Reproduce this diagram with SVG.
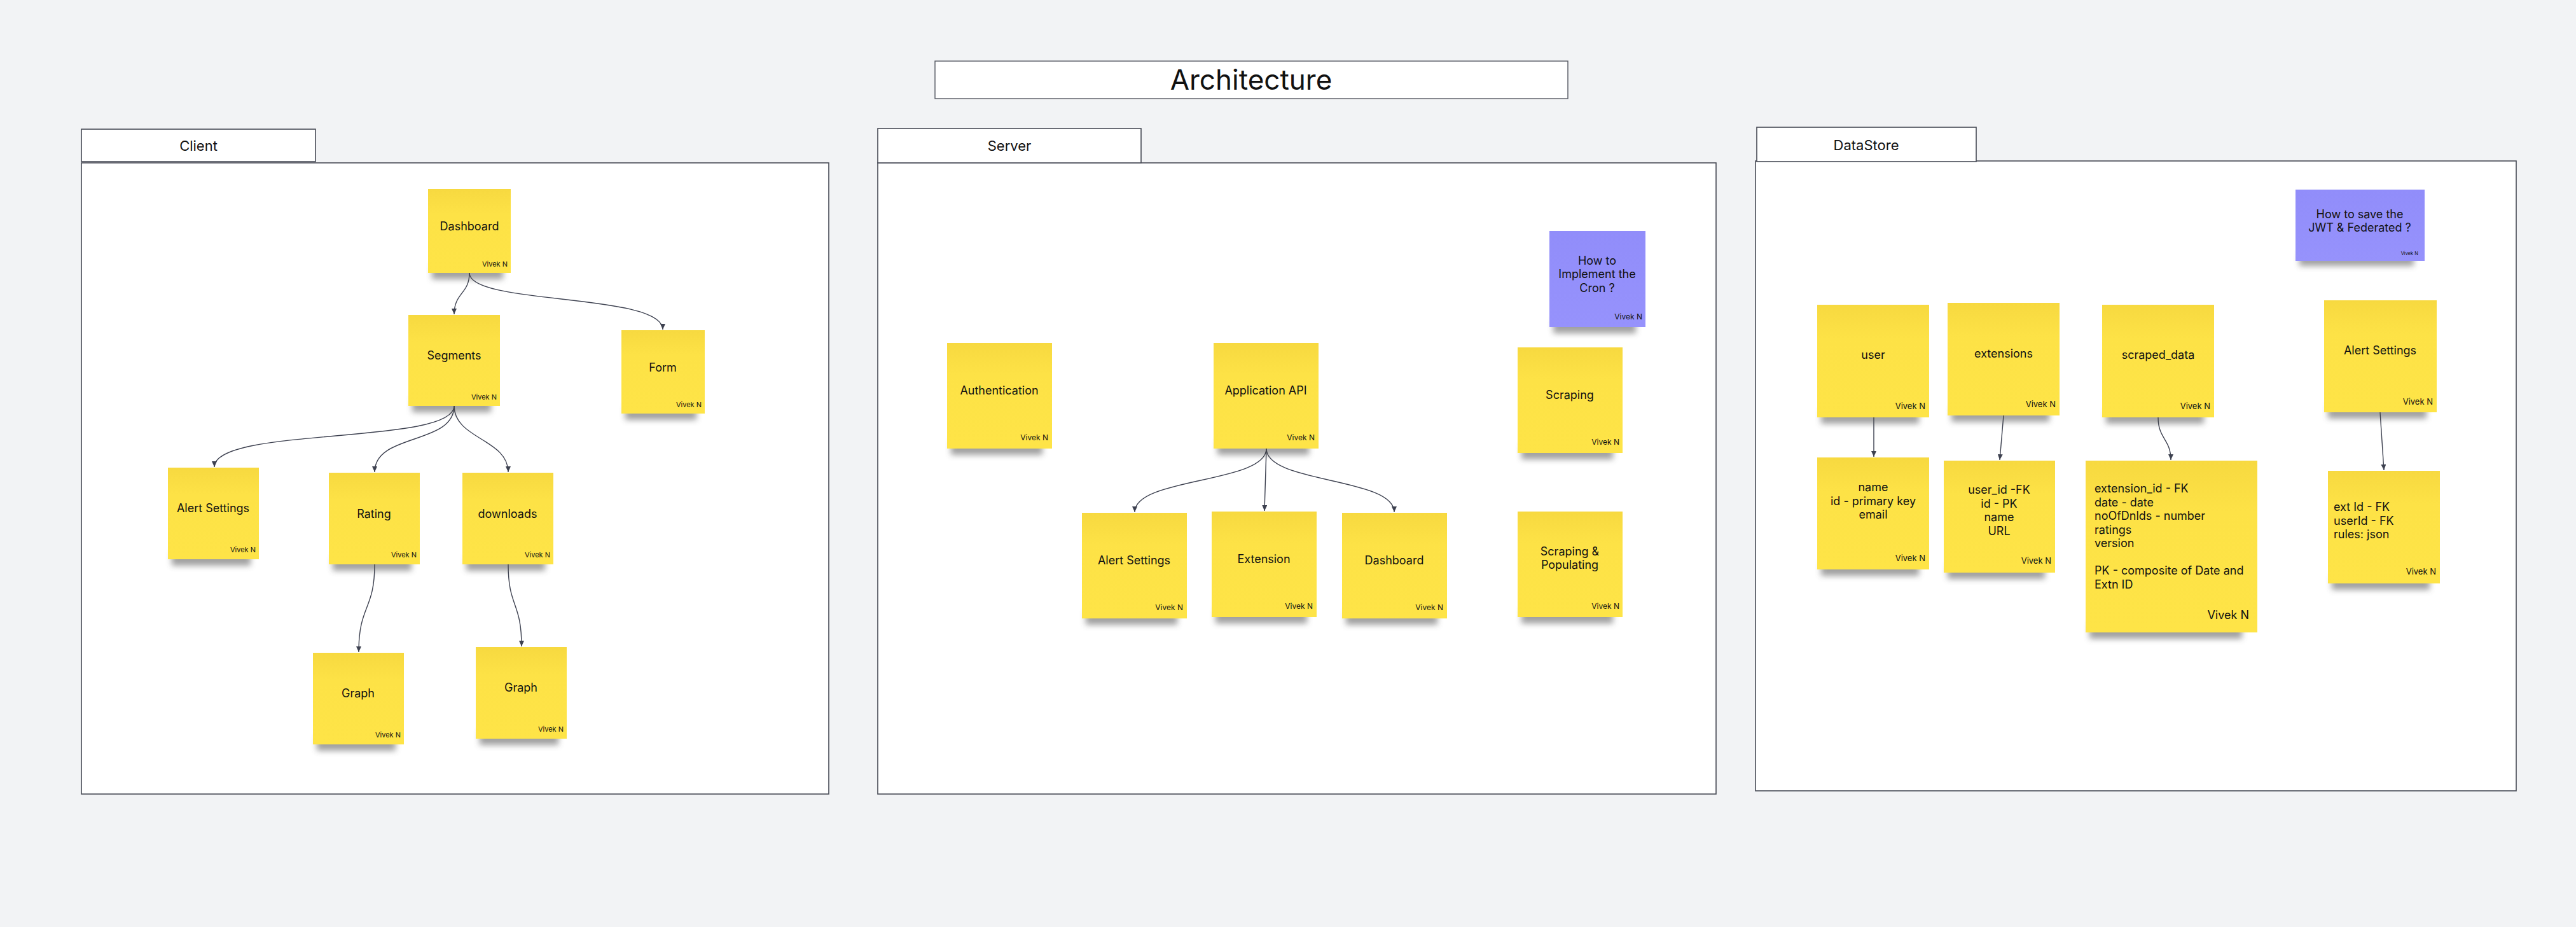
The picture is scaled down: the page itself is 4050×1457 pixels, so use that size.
<svg xmlns="http://www.w3.org/2000/svg" width="4050" height="1457" viewBox="0 0 4050 1457">
<style>
text{font-family:Inter,"Liberation Sans",Arial,sans-serif;fill:#111}
.frame{fill:#fff;stroke:#474a55;stroke-width:1.6}
.tabt{font-size:22px;text-anchor:middle}
.note{fill:url(#gy)}
.pnote{fill:url(#gp)}
.sh{fill:#444;opacity:.5;filter:url(#bl)}
.lbl{font-size:18px;text-anchor:middle}
.lft{font-size:18px;text-anchor:start}
.vn{font-size:11px;text-anchor:end}
.vs{font-size:12px;text-anchor:end}
.vd{font-size:13px;text-anchor:end}
.edge{fill:none;stroke:#3d4150;stroke-width:1.4;marker-end:url(#ah)}
</style>
<defs>
<linearGradient id="gy" x1="0" y1="0" x2="0" y2="1">
<stop offset="0" stop-color="#F7D940"/>
<stop offset="0.3" stop-color="#FDE246"/>
<stop offset="1" stop-color="#FEE447"/>
</linearGradient>
<linearGradient id="gp" x1="0" y1="0" x2="0" y2="1">
<stop offset="0" stop-color="#918DFA"/>
<stop offset="1" stop-color="#9692FC"/>
</linearGradient>
<filter id="bl" x="-20%" y="-50%" width="140%" height="200%"><feGaussianBlur stdDeviation="5"/></filter>
<marker id="ah" markerWidth="10" markerHeight="8" refX="9" refY="4" orient="auto" markerUnits="userSpaceOnUse">
<path d="M0,0 L9,4 L0,8 Z" fill="#3d4150"/>
</marker>
</defs>
<rect x="0" y="0" width="4050" height="1457" fill="#F2F3F5"/>

<g id="title">
<rect x="1470" y="96" width="995" height="59" fill="#fff" stroke="#555862" stroke-width="1.4"/>
<text x="1967" y="141" font-size="44" text-anchor="middle">Architecture</text>
</g>

<g id="frame-client">
<rect class="frame" x="128" y="256" width="1175" height="992"/>
<rect class="frame" x="128" y="203" width="368" height="51"/>
<text class="tabt" x="312" y="237">Client</text>
</g>
<g id="frame-server">
<rect class="frame" x="1380" y="256" width="1318" height="992"/>
<rect class="frame" x="1380" y="202" width="414" height="54"/>
<text class="tabt" x="1587" y="237">Server</text>
</g>
<g id="frame-datastore">
<rect class="frame" x="2760" y="253" width="1196" height="990"/>
<rect class="frame" x="2762" y="200" width="345" height="54"/>
<text class="tabt" x="2934" y="236">DataStore</text>
</g>

<g id="connectors">
<path class="edge" d="M738,429 C738,462 714,460 714,494"/>
<path class="edge" d="M738,429 C738,480 1042,460 1042,518"/>
<path class="edge" d="M714,638 C714,700 337,670 337,734"/>
<path class="edge" d="M714,638 C714,700 589,680 589,742"/>
<path class="edge" d="M714,638 C714,690 799,690 799,742"/>
<path class="edge" d="M589,887 C589,960 564,950 564,1025"/>
<path class="edge" d="M799,887 C799,955 820,945 820,1016"/>
<path class="edge" d="M1991,705 C1991,760 1784,750 1784,805"/>
<path class="edge" d="M1991,705 L1988,803"/>
<path class="edge" d="M1991,705 C1991,760 2192,750 2192,805"/>
<path class="edge" d="M2946,656 L2946,718"/>
<path class="edge" d="M3150,653 L3144,723"/>
<path class="edge" d="M3393,656 C3393,690 3413,690 3413,723"/>
<path class="edge" d="M3742,648 L3748,739"/>
</g>

<g id="n-dashboard">
<rect class="sh" x="679" y="417" width="112" height="22"/>
<rect class="note" x="673" y="297" width="130" height="132"/>
<text class="lbl" x="738" y="362">Dashboard</text>
<text class="vn" x="798" y="419">Vivek N</text>
</g>
<g id="n-segments">
<rect class="sh" x="648" y="626" width="124" height="22"/>
<rect class="note" x="642" y="495" width="144" height="143"/>
<text class="lbl" x="714" y="565">Segments</text>
<text class="vn" x="781" y="628">Vivek N</text>
</g>
<g id="n-form">
<rect class="sh" x="983" y="638" width="112" height="22"/>
<rect class="note" x="977" y="519" width="131" height="131"/>
<text class="lbl" x="1042" y="584">Form</text>
<text class="vn" x="1103" y="640">Vivek N</text>
</g>
<g id="n-c-alert">
<rect class="sh" x="270" y="867" width="124" height="22"/>
<rect class="note" x="264" y="735" width="143" height="144"/>
<text class="lbl" x="335" y="805">Alert Settings</text>
<text class="vn" x="402" y="868">Vivek N</text>
</g>
<g id="n-rating">
<rect class="sh" x="523" y="875" width="124" height="22"/>
<rect class="note" x="517" y="743" width="143" height="144"/>
<text class="lbl" x="588" y="814">Rating</text>
<text class="vn" x="655" y="876">Vivek N</text>
</g>
<g id="n-downloads">
<rect class="sh" x="733" y="875" width="124" height="22"/>
<rect class="note" x="727" y="743" width="143" height="144"/>
<text class="lbl" x="798" y="814">downloads</text>
<text class="vn" x="865" y="876">Vivek N</text>
</g>
<g id="n-graph1">
<rect class="sh" x="498" y="1158" width="124" height="22"/>
<rect class="note" x="492" y="1026" width="143" height="144"/>
<text class="lbl" x="563" y="1096">Graph</text>
<text class="vn" x="630" y="1159">Vivek N</text>
</g>
<g id="n-graph2">
<rect class="sh" x="754" y="1149" width="124" height="22"/>
<rect class="note" x="748" y="1017" width="143" height="144"/>
<text class="lbl" x="819" y="1087">Graph</text>
<text class="vn" x="886" y="1150">Vivek N</text>
</g>

<g id="n-auth">
<rect class="sh" x="1495" y="693" width="144" height="22"/>
<rect class="note" x="1489" y="539" width="165" height="166"/>
<text class="lbl" x="1571" y="620">Authentication</text>
<text class="vs" x="1648" y="692">Vivek N</text>
</g>
<g id="n-appapi">
<rect class="sh" x="1914" y="693" width="144" height="22"/>
<rect class="note" x="1908" y="539" width="165" height="166"/>
<text class="lbl" x="1990" y="620">Application API</text>
<text class="vs" x="2067" y="692">Vivek N</text>
</g>
<g id="n-cron">
<rect class="sh" x="2442" y="502" width="130" height="22"/>
<rect class="pnote" x="2436" y="363" width="151" height="151"/>
<text class="lbl" x="2511" y="416">How to</text>
<text class="lbl" x="2511" y="437">Implement the</text>
<text class="lbl" x="2511" y="459">Cron ?</text>
<text class="vs" x="2582" y="502">Vivek N</text>
</g>
<g id="n-scraping">
<rect class="sh" x="2392" y="700" width="144" height="22"/>
<rect class="note" x="2386" y="546" width="165" height="166"/>
<text class="lbl" x="2468" y="627">Scraping</text>
<text class="vs" x="2546" y="699">Vivek N</text>
</g>
<g id="n-s-alert">
<rect class="sh" x="1707" y="960" width="144" height="22"/>
<rect class="note" x="1701" y="806" width="165" height="166"/>
<text class="lbl" x="1783" y="887">Alert Settings</text>
<text class="vs" x="1860" y="959">Vivek N</text>
</g>
<g id="n-s-extension">
<rect class="sh" x="1911" y="958" width="144" height="22"/>
<rect class="note" x="1905" y="804" width="165" height="166"/>
<text class="lbl" x="1987" y="885">Extension</text>
<text class="vs" x="2064" y="957">Vivek N</text>
</g>
<g id="n-s-dashboard">
<rect class="sh" x="2116" y="960" width="144" height="22"/>
<rect class="note" x="2110" y="806" width="165" height="166"/>
<text class="lbl" x="2192" y="887">Dashboard</text>
<text class="vs" x="2269" y="959">Vivek N</text>
</g>
<g id="n-scrpop">
<rect class="sh" x="2392" y="958" width="144" height="22"/>
<rect class="note" x="2386" y="804" width="165" height="166"/>
<text class="lbl" x="2468" y="873">Scraping &amp;</text>
<text class="lbl" x="2468" y="894">Populating</text>
<text class="vs" x="2546" y="957">Vivek N</text>
</g>

<g id="n-jwt">
<rect class="sh" x="3615" y="398" width="180" height="20"/>
<rect class="pnote" x="3609" y="298" width="203" height="112"/>
<text class="lbl" x="3710" y="343">How to save the</text>
<text class="lbl" x="3710" y="364">JWT &amp; Federated ?</text>
<text x="3802" y="401" font-size="7.5" text-anchor="end">Vivek N</text>
</g>
<g id="n-user">
<rect class="sh" x="2863" y="644" width="154" height="22"/>
<rect class="note" x="2857" y="479" width="176" height="177"/>
<text class="lbl" x="2945" y="564">user</text>
<text class="vd" x="3027" y="643">Vivek N</text>
</g>
<g id="n-extensions">
<rect class="sh" x="3068" y="641" width="154" height="22"/>
<rect class="note" x="3062" y="476" width="176" height="177"/>
<text class="lbl" x="3150" y="562">extensions</text>
<text class="vd" x="3232" y="640">Vivek N</text>
</g>
<g id="n-scraped">
<rect class="sh" x="3311" y="644" width="154" height="22"/>
<rect class="note" x="3305" y="479" width="176" height="177"/>
<text class="lbl" x="3393" y="564">scraped_data</text>
<text class="vd" x="3475" y="643">Vivek N</text>
</g>
<g id="n-d-alert">
<rect class="sh" x="3660" y="636" width="155" height="22"/>
<rect class="note" x="3654" y="472" width="177" height="176"/>
<text class="lbl" x="3742" y="557">Alert Settings</text>
<text class="vd" x="3825" y="636">Vivek N</text>
</g>
<g id="n-user-fields">
<rect class="sh" x="2863" y="883" width="154" height="22"/>
<rect class="note" x="2857" y="719" width="176" height="176"/>
<text class="lbl" x="2945" y="772">name</text>
<text class="lbl" x="2945" y="794">id - primary key</text>
<text class="lbl" x="2945" y="815">email</text>
<text class="vd" x="3027" y="882">Vivek N</text>
</g>
<g id="n-ext-fields">
<rect class="sh" x="3062" y="888" width="153" height="22"/>
<rect class="note" x="3056" y="724" width="175" height="176"/>
<text class="lbl" x="3143" y="776">user_id -FK</text>
<text class="lbl" x="3143" y="798">id - PK</text>
<text class="lbl" x="3143" y="819">name</text>
<text class="lbl" x="3143" y="841">URL</text>
<text class="vd" x="3225" y="886">Vivek N</text>
</g>
<g id="n-scraped-fields">
<rect class="sh" x="3285" y="980" width="240" height="24"/>
<rect class="note" x="3279" y="724" width="270" height="270"/>
<text class="lft" x="3293" y="774">extension_id - FK</text>
<text class="lft" x="3293" y="796">date - date</text>
<text class="lft" x="3293" y="817">noOfDnlds - number</text>
<text class="lft" x="3293" y="839">ratings</text>
<text class="lft" x="3293" y="860">version</text>
<text class="lft" x="3293" y="903">PK - composite of Date and</text>
<text class="lft" x="3293" y="925">Extn ID</text>
<text x="3536" y="973" font-size="18" text-anchor="end">Vivek N</text>
</g>
<g id="n-alert-fields">
<rect class="sh" x="3666" y="905" width="154" height="22"/>
<rect class="note" x="3660" y="740" width="176" height="177"/>
<text class="lft" x="3669" y="803">ext Id - FK</text>
<text class="lft" x="3669" y="825">userId - FK</text>
<text class="lft" x="3669" y="846">rules: json</text>
<text class="vd" x="3830" y="903">Vivek N</text>
</g>
</svg>
